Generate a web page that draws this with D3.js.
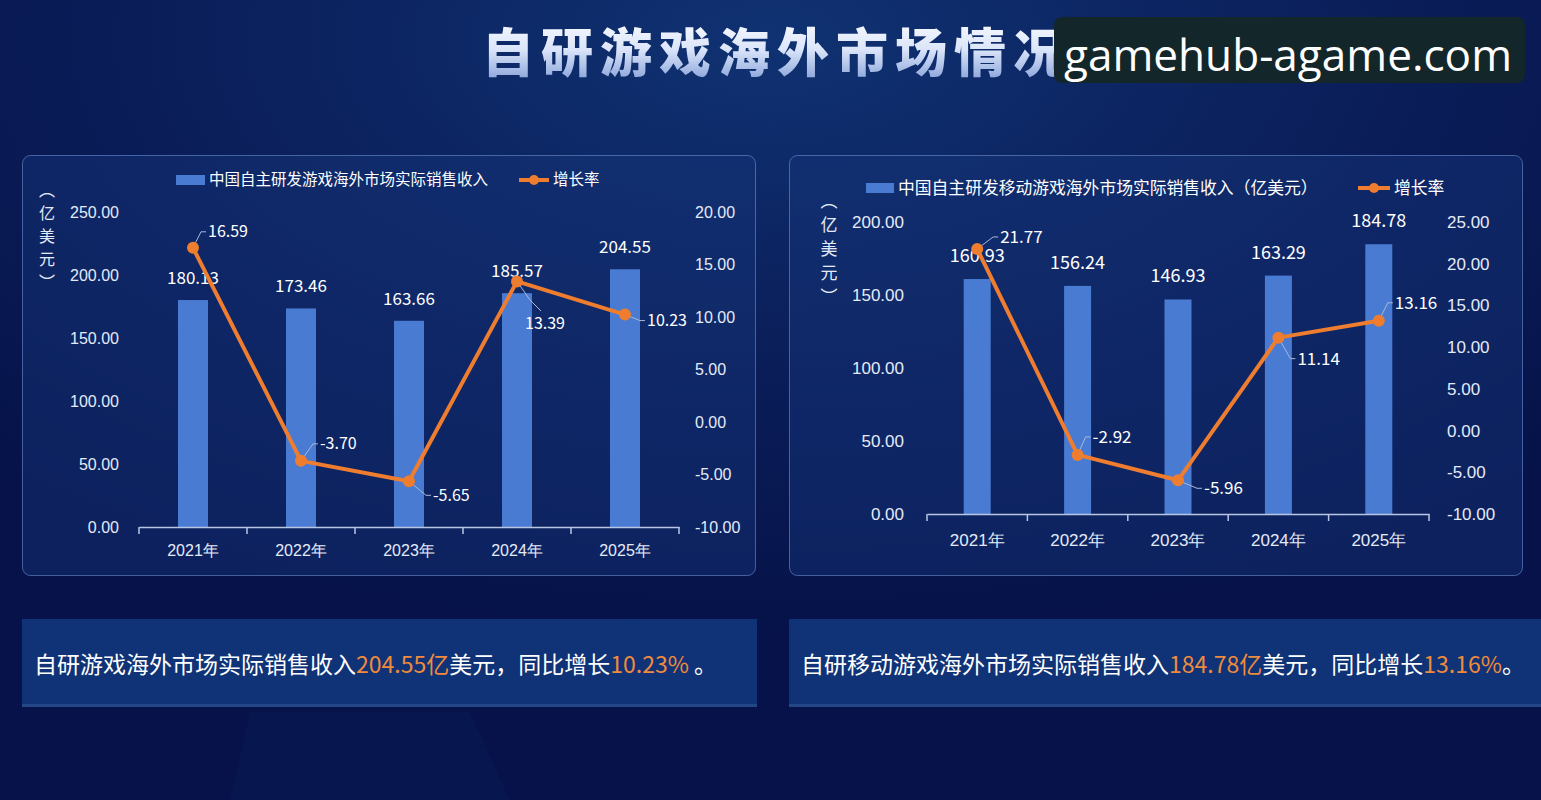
<!DOCTYPE html>
<html>
<head>
<meta charset="utf-8">
<script src="https://cdn.jsdelivr.net/npm/d3@7"></script>
<style>
  html, body { margin: 0; padding: 0; background: #08184c; }
  svg { display: block; font-family: "Noto Sans CJK SC", "Noto Sans", sans-serif; }
</style>
</head>
<body>
<div id="chart"></div>
<script>
// data
const years = ["2021年", "2022年", "2023年", "2024年", "2025年"];
const gameRevenue = [180.13, 173.46, 163.66, 185.57, 204.55];
const gameGrowth = [16.59, -3.7, -5.65, 13.39, 10.23];
const mobileRevenue = [160.93, 156.24, 146.93, 163.29, 184.78];
const mobileGrowth = [21.77, -2.92, -5.96, 11.14, 13.16];
const gameLeftTicks = [0, 50, 100, 150, 200, 250];
const gameRightTicks = [-10, -5, 0, 5, 10, 15, 20];
const mobileLeftTicks = [0, 50, 100, 150, 200];
const mobileRightTicks = [-10, -5, 0, 5, 10, 15, 20, 25];

const W = 1541, H = 800;
const orange = "#ee7d30";
const barColor = "#4a7bd2";
// plain hyphen for negatives, like the source
const fmt = d => d.toFixed(2);

const svg = d3.select("#chart").append("svg").attr("width", W).attr("height", H);
const defs = svg.append("defs");

const bg = defs.append("radialGradient").attr("id", "bg")
  .attr("cx", "50%").attr("cy", "5%").attr("r", "75%");
bg.append("stop").attr("offset", "0%").attr("stop-color", "#103272");
bg.append("stop").attr("offset", "55%").attr("stop-color", "#0a1d58");
bg.append("stop").attr("offset", "100%").attr("stop-color", "#061249");
svg.append("rect").attr("width", W).attr("height", H).attr("fill", "url(#bg)");

// faint light beam at the bottom
svg.append("path")
  .attr("d", "M230,800 L250,712 L470,712 L510,800 Z")
  .attr("fill", "#1a3a8a").attr("opacity", 0.1);

const tg = defs.append("linearGradient").attr("id", "titleGrad")
  .attr("x1", 0).attr("y1", 0).attr("x2", 0).attr("y2", 1);
tg.append("stop").attr("offset", "0%").attr("stop-color", "#ffffff");
tg.append("stop").attr("offset", "50%").attr("stop-color", "#dbe5fa");
tg.append("stop").attr("offset", "100%").attr("stop-color", "#7896d2");

svg.append("text")
  .attr("x", 482).attr("y", 72)
  .attr("font-size", 52).attr("font-weight", 900)
  .attr("letter-spacing", 7)
  .attr("fill", "url(#titleGrad)")
  .text("自研游戏海外市场情况");

// watermark
svg.append("rect")
  .attr("x", 1054).attr("y", 17).attr("width", 471).attr("height", 66)
  .attr("rx", 8).attr("fill", "#13262a");
svg.append("text")
  .attr("x", 1064).attr("y", 71)
  .attr("font-family", "'Open Sans', 'Noto Sans', sans-serif")
  .attr("font-size", 44).attr("fill", "#ffffff")
  .attr("textLength", 448).attr("lengthAdjust", "spacingAndGlyphs")
  .text("gamehub-agame.com");

function drawPanel(cfg) {
  const g = svg.append("g");

  g.append("rect")
    .attr("x", cfg.box[0] + 0.5).attr("y", cfg.box[1] + 0.5)
    .attr("width", cfg.box[2]).attr("height", cfg.box[3])
    .attr("rx", 8)
    .attr("fill", "#16357a").attr("fill-opacity", 0.45)
    .attr("stroke", "#6d8fd0").attr("stroke-opacity", 0.6);

  const x = d3.scaleBand().domain(years).range(cfg.xRange);
  const yL = d3.scaleLinear().domain(d3.extent(cfg.leftTicks)).range(cfg.yRange);
  const yR = d3.scaleLinear().domain(d3.extent(cfg.rightTicks)).range(cfg.yRange);
  const s = cfg.fs;

  // left axis
  g.append("g")
    .attr("transform", `translate(${cfg.xRange[0]},0)`)
    .call(d3.axisLeft(yL).tickValues(cfg.leftTicks).tickFormat(fmt).tickSize(0).tickPadding(cfg.padL))
    .call(a => a.select(".domain").remove())
    .call(a => a.selectAll("text").attr("fill", "#e4ebf8").attr("font-size", s).attr("font-family", "inherit"));

  // right axis
  g.append("g")
    .attr("transform", `translate(${cfg.xRange[1]},0)`)
    .call(d3.axisRight(yR).tickValues(cfg.rightTicks).tickFormat(fmt).tickSize(0).tickPadding(cfg.padR))
    .call(a => a.select(".domain").remove())
    .call(a => a.selectAll("text").attr("fill", "#e4ebf8").attr("font-size", s).attr("font-family", "inherit"));

  // bars
  g.selectAll(".bar").data(cfg.bars).join("rect")
    .attr("x", (d, i) => x(years[i]) + x.bandwidth() / 2 - cfg.barW / 2)
    .attr("y", d => yL(d))
    .attr("width", cfg.barW)
    .attr("height", d => yL(0) - yL(d))
    .attr("fill", barColor);

  // bottom axis
  const base = cfg.yRange[0];
  const xa = g.append("g")
    .attr("transform", `translate(0,${base})`)
    .call(d3.axisBottom(x).tickSize(0).tickPadding(cfg.padB));
  xa.select(".domain").attr("stroke", "#b9c6e3").attr("stroke-width", 1.5);
  xa.selectAll("text").attr("fill", "#e4ebf8").attr("font-size", s).attr("font-family", "inherit");
  const bounds = years.map(d => x(d)).concat([x.range()[1]]);
  xa.selectAll(".bound").data(bounds).join("line")
    .attr("x1", d => d).attr("x2", d => d)
    .attr("y1", 0).attr("y2", 7)
    .attr("stroke", "#b9c6e3").attr("stroke-width", 1.5);

  // bar labels
  g.selectAll(".blab").data(cfg.bars).join("text")
    .attr("x", (d, i) => x(years[i]) + x.bandwidth() / 2)
    .attr("y", d => yL(d) - cfg.barLabelGap)
    .attr("text-anchor", "middle")
    .attr("fill", "#ffffff").attr("font-size", s + 1)
    .text(d => fmt(d));

  // growth line
  const pts = cfg.line.map((d, i) => [x(years[i]) + x.bandwidth() / 2, yR(d)]);
  g.append("path")
    .attr("d", d3.line()(pts))
    .attr("fill", "none").attr("stroke", orange)
    .attr("stroke-width", 4).attr("stroke-linejoin", "round");

  // leader lines + labels
  pts.forEach((p, i) => {
    const o = cfg.offsets[i];
    const lx = p[0] + o[0], ly = p[1] + o[1];
    const le = o[2] || [lx - 2, ly];
    const elbow = o[3] || [lx - 7, ly];
    g.append("polyline")
      .attr("points", [p, elbow, le].map(q => q.join(",")).join(" "))
      .attr("fill", "none").attr("stroke", "#a9b8d6").attr("stroke-width", 1);
    g.append("text")
      .attr("x", lx).attr("y", ly)
      .attr("dy", "0.35em")
      .attr("fill", "#ffffff").attr("font-size", s)
      .text(fmt(cfg.line[i]));
  });

  g.selectAll(".dot").data(pts).join("circle")
    .attr("cx", d => d[0]).attr("cy", d => d[1])
    .attr("r", 6).attr("fill", orange);

  // vertical unit label
  g.selectAll(".unit").data(["︵", "亿", "美", "元", "︶"]).join("text")
    .attr("x", cfg.unit[0]).attr("y", (d, i) => cfg.unit[1] + i * cfg.unit[2])
    .attr("text-anchor", "middle").attr("dy", "0.35em")
    .attr("fill", "#e4ebf8").attr("font-size", s)
    .text(d => d);

  // legend
  const lg = cfg.legend;
  g.append("rect")
    .attr("x", lg.x).attr("y", lg.y - 5).attr("width", lg.sw).attr("height", 10)
    .attr("fill", barColor);
  g.append("text")
    .attr("x", lg.x + lg.sw + 4).attr("y", lg.y).attr("dy", "0.35em")
    .attr("fill", "#ffffff").attr("font-size", lg.fs)
    .text(lg.barText);
  g.append("line")
    .attr("x1", lg.lx).attr("x2", lg.lx + lg.lw)
    .attr("y1", lg.y).attr("y2", lg.y)
    .attr("stroke", orange).attr("stroke-width", 4);
  g.append("circle")
    .attr("cx", lg.lx + lg.lw / 2).attr("cy", lg.y).attr("r", 5).attr("fill", orange);
  g.append("text")
    .attr("x", lg.lx + lg.lw + 4).attr("y", lg.y).attr("dy", "0.35em")
    .attr("fill", "#ffffff").attr("font-size", lg.fs)
    .text("增长率");

  // summary box
  const sb = cfg.summary;
  g.append("rect")
    .attr("x", sb.box[0]).attr("y", sb.box[1]).attr("width", sb.box[2]).attr("height", sb.box[3])
    .attr("fill", "#123a7e").attr("fill-opacity", 0.85);
  g.append("rect")
    .attr("x", sb.box[0]).attr("y", sb.box[1] + sb.box[3] - 3).attr("width", sb.box[2]).attr("height", 3)
    .attr("fill", "#2a4c8e").attr("fill-opacity", 0.8);
  const t = g.append("text")
    .attr("x", sb.box[0] + 12).attr("y", sb.box[1] + 46)
    .attr("dy", "0.35em").attr("font-size", 23);
  sb.parts.forEach(pt => {
    t.append("tspan").attr("fill", pt[1] ? "#f08a3c" : "#ffffff").text(pt[0]);
  });
}

drawPanel({
  box: [22, 155, 733, 420],
  xRange: [139, 679],
  yRange: [527, 212],
  leftTicks: gameLeftTicks,
  rightTicks: gameRightTicks,
  bars: gameRevenue,
  line: gameGrowth,
  barW: 30,
  fs: 16,
  padL: 20, padR: 16, padB: 18,
  barLabelGap: 16,
  offsets: [[15, -16], [19, -17], [24, 14], [8, 42, [541, 311], [530, 300]], [22, 6]],
  unit: [47, 190, 23],
  legend: { x: 176, y: 180, sw: 29, lx: 519, lw: 30, fs: 15.5, barText: "中国自主研发游戏海外市场实际销售收入" },
  summary: {
    box: [22, 619, 735, 88],
    parts: [["自研游戏海外市场实际销售收入", false], ["204.55亿", true], ["美元，同比增长", false], ["10.23%", true], [" 。", false]]
  }
});

drawPanel({
  box: [789, 155, 733, 420],
  xRange: [927, 1429],
  yRange: [514, 222],
  leftTicks: mobileLeftTicks,
  rightTicks: mobileRightTicks,
  bars: mobileRevenue,
  line: mobileGrowth,
  barW: 27,
  fs: 17,
  padL: 23, padR: 18, padB: 20,
  barLabelGap: 17,
  offsets: [[23, -12], [15, -18], [26, 8], [19, 21], [16, -18]],
  unit: [829, 201, 24],
  legend: { x: 866, y: 188, sw: 28, lx: 1358, lw: 32, fs: 16.8, barText: "中国自主研发移动游戏海外市场实际销售收入（亿美元）" },
  summary: {
    box: [789, 619, 760, 88],
    parts: [["自研移动游戏海外市场实际销售收入", false], ["184.78亿", true], ["美元，同比增长", false], ["13.16%", true], ["。", false]]
  }
});
</script>
</body>
</html>
